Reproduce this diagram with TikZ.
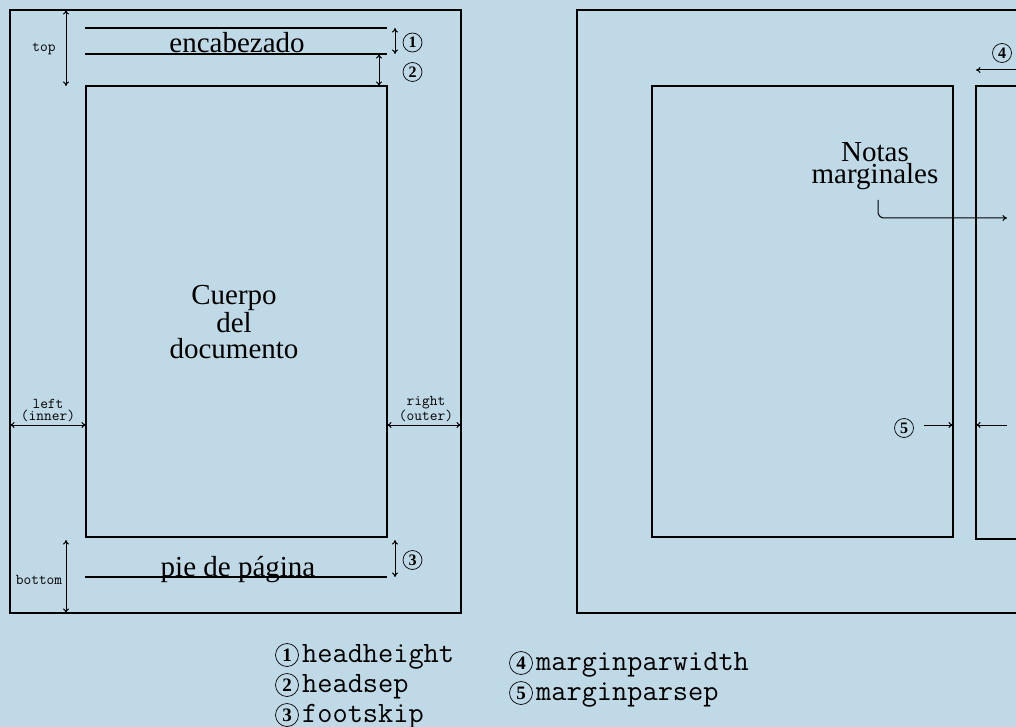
\documentclass[tikz,border=0pt]{standalone}
\usepackage{fontspec}
\setmainfont{Liberation Serif}
\usetikzlibrary{arrows.meta}
\definecolor{pagebg}{RGB}{192,217,230}

\begin{document}
\begin{tikzpicture}[x=1pt,y=-1pt,
  page/.style={draw=black,line width=1.6pt},
  rule/.style={draw=black,line width=1.4pt},
  dim/.style={draw=black,line width=1pt,{To[length=4.5pt,width=6pt]}-{To[length=4.5pt,width=6pt]}},
  tip/.style={draw=black,line width=1pt,-{To[length=4.5pt,width=6pt]}},
  bigtxt/.style={font=\fontsize{29}{26}\selectfont,inner sep=0pt,align=center},
  smalltt/.style={font=\ttfamily\fontsize{15}{12}\selectfont,inner sep=0pt,align=center},
  legendtt/.style={font=\ttfamily\fontsize{29.5}{30}\selectfont,anchor=base west,inner sep=0pt},
  cnum/.style={circle,draw=black,line width=0.7pt,minimum size=19pt,inner sep=0pt,
    font=\bfseries\fontsize{16}{16}\selectfont},
  cnumbig/.style={cnum,minimum size=23pt,font=\bfseries\fontsize{19}{19}\selectfont}]

\fill[pagebg] (0,0) rectangle (1016,727);
\useasboundingbox (0,0) rectangle (1016,727);
\clip (0,0) rectangle (1016,727);

% ---------- left page ----------
\coordinate (LP-nw) at (10,10);   \coordinate (LP-se) at (461,613);
\coordinate (LB-nw) at (86,86);   \coordinate (LB-se) at (387,537);
\coordinate (H1-w) at (85,28);    \coordinate (H1-e) at (387,28);
\coordinate (H2-w) at (85,54);    \coordinate (H2-e) at (387,54);
\coordinate (F-w)  at (85,577);   \coordinate (F-e)  at (387,577);
\draw[page] (LP-nw) rectangle (LP-se);
\draw[page] (LB-nw) rectangle (LB-se);
\draw[rule] (H1-w) -- (H1-e);
\draw[rule] (H2-w) -- (H2-e);
\draw[rule] (F-w) -- (F-e);

\node[bigtxt,anchor=base] (head) at (237,53) {encabezado};
\node[bigtxt,anchor=base] (foot) at (238,576) {pie de página};
\node[bigtxt] (body) at (234,322) {Cuerpo\\del\\documento};

% top / bottom margins
\coordinate (top-a) at (66,10);  \coordinate (top-b) at (66,86);
\draw[dim] (top-a) -- (top-b);
\node[smalltt] (toplbl) at (44,49) {top};
\coordinate (bot-a) at (66,540); \coordinate (bot-b) at (66,613);
\draw[dim] (bot-a) -- (bot-b);
\node[smalltt] (botlbl) at (39,580) {bottom};

% left / right margins
\coordinate (lm-a) at (10,425);  \coordinate (lm-b) at (86,425);
\draw[dim] (lm-a) -- (lm-b);
\node[smalltt] (lmlbl) at (48,410) {left\\(inner)};
\coordinate (rm-a) at (387,425); \coordinate (rm-b) at (461,425);
\draw[dim] (rm-a) -- (rm-b);
\node[smalltt] (rmlbl) at (426,409) {right\\(outer)};

% headheight, headsep, footskip
\coordinate (hh-a) at (395,28);  \coordinate (hh-b) at (395,54);
\draw[dim] (hh-a) -- (hh-b);
\node[cnum] (n1) at (412.5,42.5) {1};
\coordinate (hs-a) at (379,54);  \coordinate (hs-b) at (379,86);
\draw[dim] (hs-a) -- (hs-b);
\node[cnum] (n2) at (412.5,72) {2};
\coordinate (fs-a) at (395,540); \coordinate (fs-b) at (395,577);
\draw[dim] (fs-a) -- (fs-b);
\node[cnum] (n3) at (412.5,560) {3};

% ---------- right page ----------
\coordinate (RP-nw) at (577,10);  \coordinate (RP-se) at (1028,613);
\coordinate (RB-nw) at (652,86);  \coordinate (RB-se) at (953,537);
\coordinate (MN-nw) at (976,86);  \coordinate (MN-se) at (1040,539);
\draw[page] (RP-nw) rectangle (RP-se);
\draw[page] (RB-nw) rectangle (RB-se);
\draw[page] (MN-nw) rectangle (MN-se);

\node[bigtxt,font=\fontsize{29}{22}\selectfont] (notas) at (875,166) {Notas\\marginales};
\coordinate (na-a) at (878,200); \coordinate (na-b) at (1007,218);
\draw[tip,rounded corners=6pt] (na-a) |- (na-b);

% marginparwidth
\coordinate (mw-a) at (1030,70); \coordinate (mw-b) at (976,70);
\draw[tip] (mw-a) -- (mw-b);
\node[cnum] (n4) at (1002,53) {4};

% marginparsep
\coordinate (ms-a) at (924,425);  \coordinate (ms-b) at (953,425);
\draw[tip] (ms-a) -- (ms-b);
\coordinate (ms-c) at (1007,425); \coordinate (ms-d) at (976,425);
\draw[tip] (ms-c) -- (ms-d);
\node[cnum] (n5) at (904,428) {5};

% ---------- legend ----------
\node[cnumbig] (l1) at (287,655) {1};
\node[legendtt] (t1) at (302,662) {headheight};
\node[cnumbig] (l2) at (287,685) {2};
\node[legendtt] (t2) at (302,692) {headsep};
\node[cnumbig] (l3) at (287,715) {3};
\node[legendtt] (t3) at (302,722) {footskip};
\node[cnumbig] (l4) at (521,663) {4};
\node[legendtt] (t4) at (536,670) {marginparwidth};
\node[cnumbig] (l5) at (521,693) {5};
\node[legendtt] (t5) at (536,700) {marginparsep};
\end{tikzpicture}
\end{document}
